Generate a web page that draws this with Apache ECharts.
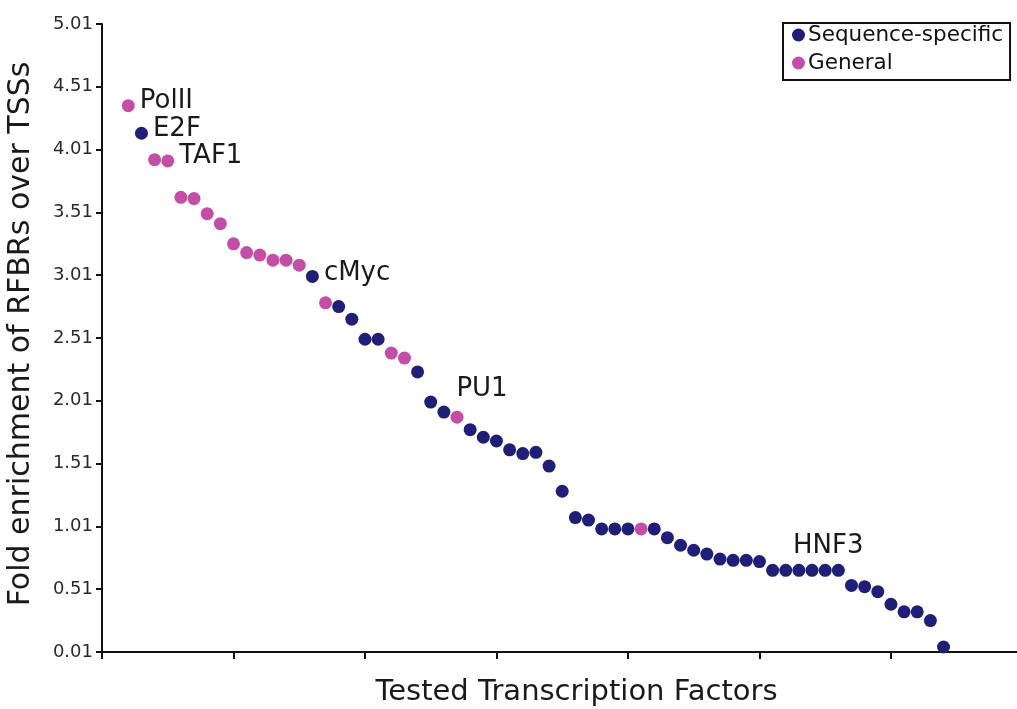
<!DOCTYPE html>
<html>
<head>
<meta charset="utf-8">
<script src="https://cdn.jsdelivr.net/npm/echarts@6/dist/echarts.min.js"></script>
<style>
html,body{margin:0;padding:0;background:#fff;}
#chart{width:1017px;height:709px;}
</style>
</head>
<body>
<div id="chart"></div>
<script>
// Fold enrichment values, ordered as plotted (left to right)
const values = [4.36, 4.14, 3.93, 3.92, 3.63, 3.62, 3.50, 3.42, 3.26, 3.19,
                3.17, 3.13, 3.13, 3.09, 3.00, 2.79, 2.76, 2.66, 2.50, 2.50,
                2.39, 2.35, 2.24, 2.00, 1.92, 1.88, 1.78, 1.72, 1.69, 1.62,
                1.59, 1.60, 1.49, 1.29, 1.08, 1.06, 0.99, 0.99, 0.99, 0.99,
                0.99, 0.92, 0.86, 0.82, 0.79, 0.75, 0.74, 0.74, 0.73, 0.66,
                0.66, 0.66, 0.66, 0.66, 0.66, 0.54, 0.53, 0.49, 0.39, 0.33,
                0.33, 0.26, 0.05];
// Factor class per point: S = Sequence-specific, G = General
const types = ['G','S','G','G','G','G','G','G','G','G',
               'G','G','G','G','S','G','S','S','S','S',
               'G','G','S','S','S','G','S','S','S','S',
               'S','S','S','S','S','S','S','S','S','G',
               'S','S','S','S','S','S','S','S','S','S',
               'S','S','S','S','S','S','S','S','S','S',
               'S','S','S'];
const seriesNames = {S: 'Sequence-specific', G: 'General'};
// Annotated factors and the point (1-based) they belong to
const labelNames = ['PolII', 'E2F', 'TAF1', 'cMyc', 'PU1', 'HNF3'];
const labelAt = [1, 2, 4, 15, 26, 54];
const yTicks = ['0.01','0.51','1.01','1.51','2.01','2.51','3.01','3.51','4.01','4.51','5.01'];

const FONT = 'DejaVu Sans';
const colors = {S: '#1f1f78', G: '#c24fa5'};
const labelStyle = {
  PolII: {position: 'right', distance: 5, offset: [0, -4]},
  E2F:   {position: 'right', distance: 5, offset: [0, -4]},
  TAF1:  {position: 'right', distance: 5, offset: [0, -5]},
  cMyc:  {position: 'right', distance: 5, offset: [0, -3]},
  PU1:   {position: 'top', distance: 8, offset: [25, 0]},
  HNF3:  {position: 'top', distance: 5, offset: [3, 0]}
};

function buildData(t) {
  const out = [];
  values.forEach((v, i) => {
    if (types[i] !== t) return;
    const item = {value: [i + 2, v]};
    const li = labelAt.indexOf(i + 1);
    if (li >= 0) {
      const nm = labelNames[li];
      item.name = nm;
      item.label = Object.assign({
        show: true, formatter: nm, color: '#1a1a1a', fontFamily: FONT, fontSize: 26
      }, labelStyle[nm]);
    }
    out.push(item);
  });
  return out;
}

const chart = echarts.init(document.getElementById('chart'), null, {renderer: 'canvas'});
chart.setOption({
  animation: false,
  backgroundColor: '#fff',
  grid: {left: 102, right: -12, top: 24, bottom: 57, containLabel: false, outerBoundsMode: 'none'},
  legend: {
    orient: 'vertical',
    left: 783, top: 23,
    padding: [1, 7, 6, 9],
    itemGap: 6,
    itemWidth: 13, itemHeight: 13,
    icon: 'circle',
    borderColor: '#111', borderWidth: 2,
    data: [seriesNames.S, seriesNames.G],
    itemStyle: {opacity: 1},
    textStyle: {fontFamily: FONT, fontSize: 21.5, color: '#111', lineHeight: 22, padding: [0, 0, 0, -2]}
  },
  xAxis: {
    type: 'value', min: 0, max: 70.5, interval: 10,
    name: 'Tested Transcription Factors',
    nameLocation: 'middle', nameGap: 26,
    nameTextStyle: {fontFamily: FONT, fontSize: 29, color: '#1a1a1a', padding: [0, 0, 0, 22]},
    axisLine: {show: true, onZero: false, lineStyle: {color: '#111', width: 2}},
    axisTick: {show: true, length: 7, lineStyle: {color: '#111', width: 2}},
    axisLabel: {show: false},
    splitLine: {show: false}
  },
  yAxis: {
    type: 'value', min: 0.01, max: 5.01, interval: 0.5,
    name: 'Fold enrichment of RFBRs over TSSs',
    nameLocation: 'middle', nameGap: 66,
    nameTextStyle: {fontFamily: FONT, fontSize: 30, color: '#1a1a1a', padding: [0, 0, 0, 8]},
    axisLine: {show: true, lineStyle: {color: '#111', width: 2}},
    axisTick: {show: true, length: 6, lineStyle: {color: '#111', width: 2}},
    axisLabel: {
      fontFamily: FONT, fontSize: 18, color: '#2a2a2a', margin: 9,
      formatter: (v) => {
        const s = v.toFixed(2);
        return yTicks.indexOf(s) >= 0 ? s : '';
      }
    },
    splitLine: {show: false}
  },
  series: [
    {
      name: seriesNames.G, type: 'scatter', symbol: 'circle', symbolSize: 13,
      itemStyle: {color: colors.G, opacity: 1}, data: buildData('G'), z: 2
    },
    {
      name: seriesNames.S, type: 'scatter', symbol: 'circle', symbolSize: 13,
      itemStyle: {color: colors.S, opacity: 1}, data: buildData('S'), z: 3
    }
  ]
});
</script>
</body>
</html>
